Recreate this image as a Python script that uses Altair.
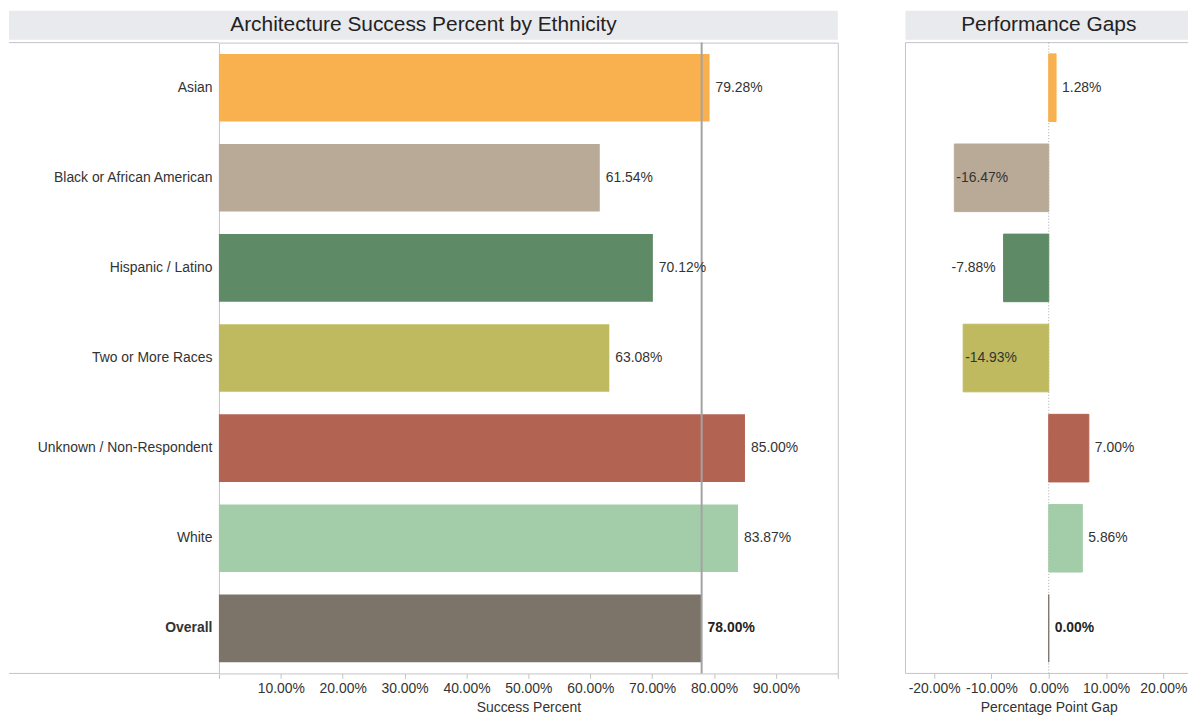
import altair as alt
import pandas as pd

categories = ["Asian", "Black or African American", "Hispanic / Latino",
              "Two or More Races", "Unknown / Non-Respondent", "White", "Overall"]
success = [0.7928, 0.6154, 0.7012, 0.6308, 0.8500, 0.8387, 0.7800]
gaps = [0.0128, -0.1647, -0.0788, -0.1493, 0.0700, 0.0586, 0.0000]
colors = ["#F9B04E", "#B9AA97", "#5F8A66", "#BFBA60", "#B36352", "#A3CDA8", "#7C7469"]
left_title = "Architecture Success Percent by Ethnicity"
right_title = "Performance Gaps"
left_axis_title = "Success Percent"
right_axis_title = "Percentage Point Gap"
left_ticks = [0, 0.1, 0.2, 0.3, 0.4, 0.5, 0.6, 0.7, 0.8, 0.9, 1.0]
right_ticks = [-0.2, -0.1, 0, 0.1, 0.2]

df = pd.DataFrame({"cat": categories, "success": success, "gap": gaps})
hdr_left = pd.DataFrame({"t": [left_title]})
hdr_right = pd.DataFrame({"t": [right_title]})

FONT = "Liberation Sans"
LINE = "#c4c4c4"
TXT = "#333333"
HDR = "#E9EAEE"
W1, W2, H = 622, 284, 634
RANGE_R = 288
LBL = 211
HT, HB = -32, -3   # header band top / bottom relative to plot top

color_scale = alt.Scale(domain=categories, range=colors)
band = alt.Scale(paddingInner=0.25, paddingOuter=0.125)
IS_OVR = "datum.cat == 'Overall'"
NOT_OVR = "datum.cat != 'Overall'"

y_left = alt.Y("cat:N", sort=categories, scale=band,
               axis=alt.Axis(title=None, ticks=False, domain=False, labelPadding=7,
                             labelFontSize=14, labelColor=TXT, labelLimit=300,
                             labelFontWeight=alt.ExprRef(expr="datum.value == 'Overall' ? 'bold' : 'normal'")))
y_right = alt.Y("cat:N", sort=categories, scale=band, axis=None)

x_left_axis = alt.Axis(values=left_ticks, format=".2%",
                       labelExpr="datum.value == 0 || datum.value == 1 ? '' : datum.label",
                       domain=False, grid=False, tickColor=LINE, tickSize=5,
                       labelFontSize=14, labelColor=TXT, labelPadding=3, labelFlush=False,
                       title=left_axis_title, titleFontSize=14, titleFontWeight="normal",
                       titleColor=TXT, titlePadding=5)
x_left = alt.X("success:Q", scale=alt.Scale(domain=[0, 1]), axis=x_left_axis)

# ---------- left panel ----------
l_hdr = alt.Chart(hdr_left).mark_rect(color=HDR).encode(
    x=alt.value(-LBL), x2=alt.value(W1), y=alt.value(HT), y2=alt.value(HB))
l_hdr_txt = alt.Chart(hdr_left).mark_text(fontSize=21, color="#222", baseline="middle").encode(
    x=alt.value((W1 - LBL) / 2), y=alt.value((HT + HB) / 2), text="t:N")
l_top = alt.Chart(hdr_left).mark_rule(color=LINE).encode(
    x=alt.value(-LBL), x2=alt.value(0), y=alt.value(0))
l_bot = alt.Chart(hdr_left).mark_rule(color=LINE).encode(
    x=alt.value(-LBL), x2=alt.value(0), y=alt.value(H))
l_bars = alt.Chart(df).mark_bar().encode(
    y=y_left, x=x_left, color=alt.Color("cat:N", scale=color_scale, legend=None))
l_ref = alt.Chart(df).transform_filter(IS_OVR).mark_rule(
    color="#a3a3a3", strokeWidth=2).encode(x="success:Q")
l_lab = alt.Chart(df).transform_filter(NOT_OVR).transform_calculate(
    lab="format(datum.success, '.2%')").mark_text(
    align="left", dx=6, fontSize=14, color=TXT, baseline="middle").encode(
    y=y_left, x="success:Q", text="lab:N")
l_lab_b = alt.Chart(df).transform_filter(IS_OVR).transform_calculate(
    lab="format(datum.success, '.2%')").mark_text(
    align="left", dx=6, fontSize=14, color="#222", fontWeight="bold", baseline="middle").encode(
    y=y_left, x="success:Q", text="lab:N")

left = alt.layer(l_hdr, l_hdr_txt, l_top, l_bot, l_bars, l_ref, l_lab, l_lab_b).properties(
    width=W1, height=H, view=alt.ViewBackground(stroke=LINE))

# ---------- right panel ----------
x_right_axis = alt.Axis(values=right_ticks, format=".2%",
                        labelExpr="replace(datum.label, '\u2212', '-')",
                        domain=False, grid=False, tickColor=LINE, tickSize=5,
                        labelFontSize=14, labelColor=TXT, labelPadding=3, labelFlush=False,
                        title=right_axis_title, titleFontSize=14, titleFontWeight="normal",
                        titleColor=TXT, titlePadding=5)
x_scale_r = alt.Scale(domain=[-0.25, 0.25], range=[0, RANGE_R])
x_right = alt.X("gap:Q", scale=x_scale_r, axis=x_right_axis, stack=None)

r_hdr = alt.Chart(hdr_right).mark_rect(color=HDR).encode(
    x=alt.value(0), x2=alt.value(W2), y=alt.value(HT), y2=alt.value(HB))
r_hdr_txt = alt.Chart(hdr_right).mark_text(fontSize=21, color="#222", baseline="middle").encode(
    x=alt.value(RANGE_R / 2), y=alt.value((HT + HB) / 2), text="t:N")
r_top = alt.Chart(hdr_right).mark_rule(color=LINE).encode(
    x=alt.value(0), x2=alt.value(W2), y=alt.value(0))
r_bot = alt.Chart(hdr_right).mark_rule(color=LINE).encode(
    x=alt.value(0), x2=alt.value(W2), y=alt.value(H))
r_left = alt.Chart(hdr_right).mark_rule(color=LINE).encode(
    x=alt.value(0), y=alt.value(0), y2=alt.value(H))
r_zero = alt.Chart(hdr_right).mark_rule(color="#aaaaaa", strokeDash=[1, 2]).encode(
    x=alt.X(datum=0, type="quantitative", scale=x_scale_r))
r_bars = alt.Chart(df).mark_bar(strokeWidth=1).encode(
    y=y_right, x=x_right,
    color=alt.Color("cat:N", scale=color_scale, legend=None),
    stroke=alt.Stroke("cat:N", scale=color_scale, legend=None))

lab_expr = "replace(format(datum.gap, '.2%'), '\u2212', '-')"
r_lab_pos = alt.Chart(df).transform_filter("datum.gap >= 0 && " + NOT_OVR).transform_calculate(
    lab=lab_expr).mark_text(align="left", dx=6, fontSize=14, color=TXT, baseline="middle").encode(
    y=y_right, x="gap:Q", text="lab:N")
r_lab_ovr = alt.Chart(df).transform_filter(IS_OVR).transform_calculate(
    lab=lab_expr).mark_text(align="left", dx=6, fontSize=14, color="#222", fontWeight="bold",
                            baseline="middle").encode(
    y=y_right, x="gap:Q", text="lab:N")
r_lab_out = alt.Chart(df).transform_filter("datum.gap < 0 && datum.gap > -0.12").transform_calculate(
    lab=lab_expr).mark_text(align="right", dx=-8, fontSize=14, color=TXT, baseline="middle").encode(
    y=y_right, x="gap:Q", text="lab:N")
r_lab_in = alt.Chart(df).transform_filter("datum.gap <= -0.12").transform_calculate(
    lab=lab_expr).mark_text(align="left", dx=2, fontSize=14, color=TXT, baseline="middle").encode(
    y=y_right, x="gap:Q", text="lab:N")

right = alt.layer(r_hdr, r_hdr_txt, r_top, r_bot, r_left, r_zero, r_bars,
                  r_lab_pos, r_lab_ovr, r_lab_out, r_lab_in).properties(
    width=W2, height=H, view=alt.ViewBackground(stroke="transparent"))

chart = alt.hconcat(left, right, spacing=66).properties(
    padding={"left": 0, "top": 0, "right": 0, "bottom": 0}).configure(
    font=FONT).configure_view(stroke=LINE)

chart.save("out.html", embed_options={"renderer": "svg", "actions": False})
